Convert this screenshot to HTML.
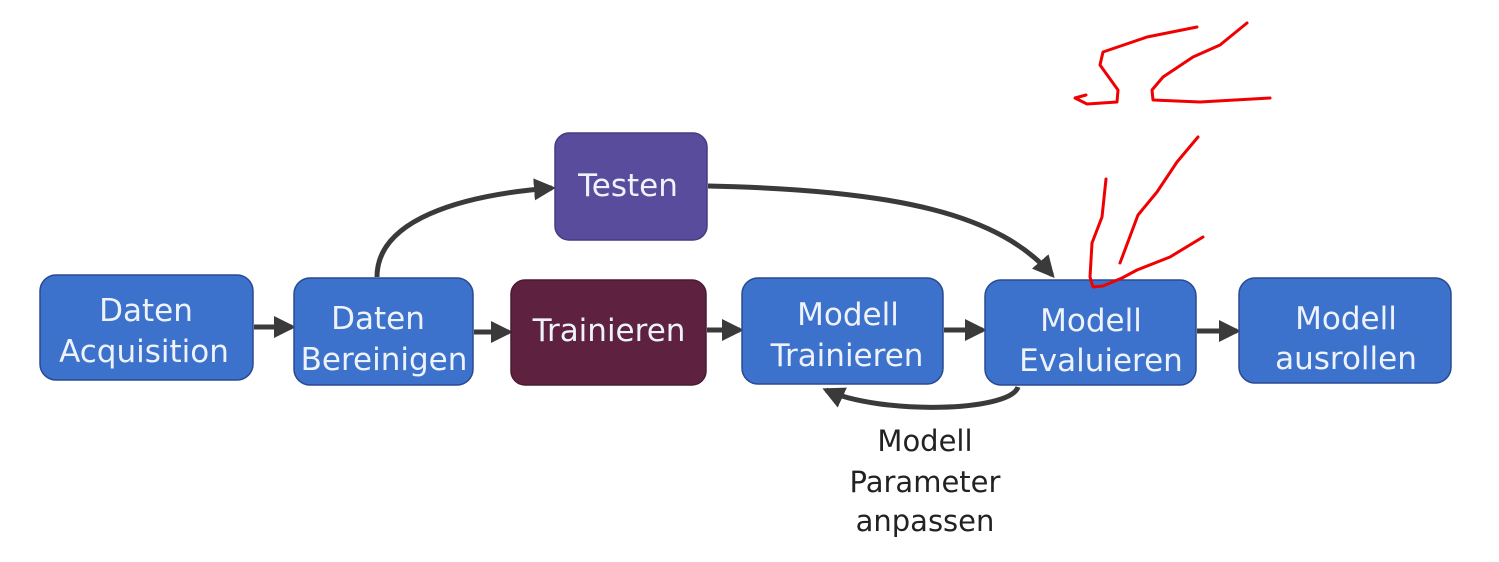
<!DOCTYPE html>
<html><head><meta charset="utf-8"><style>
html,body{margin:0;padding:0;background:#fff;}
svg{display:block;}
text{font-family:"DejaVu Sans","Liberation Sans",sans-serif;}
</style></head><body>
<svg width="1499" height="562" viewBox="0 0 1499 562" xmlns="http://www.w3.org/2000/svg">
<defs>
<marker id="ah" markerWidth="4.4" markerHeight="4.4" refX="3.6" refY="2.2" orient="auto" markerUnits="strokeWidth">
<path d="M0,0 L4.4,2.2 L0,4.4 Z" fill="#3a3a3a"/>
</marker>
</defs>
<g stroke="#3a3a3a" stroke-width="5" fill="none" stroke-linecap="butt">
<path d="M377,277 C377,220 460,195 552,188" marker-end="url(#ah)"/>
<path d="M708,186 C900,190 1000,215 1052,275" marker-end="url(#ah)"/>
<path d="M254,327 L292,327" marker-end="url(#ah)"/>
<path d="M474,332 L509,332" marker-end="url(#ah)"/>
<path d="M707,330 L740,330" marker-end="url(#ah)"/>
<path d="M944,330 L983,330" marker-end="url(#ah)"/>
<path d="M1197,331 L1237,331" marker-end="url(#ah)"/>
<path d="M1018,387 C1010,412 880,415 826,390" marker-end="url(#ah)"/>
</g>
<g stroke="#2a4a90" stroke-width="1.5">
<rect x="40" y="275" width="213" height="105" rx="16" fill="#3c72cc"/>
<rect x="294" y="278" width="179" height="107" rx="16" fill="#3c72cc"/>
<rect x="511" y="280" width="195" height="105" rx="14" fill="#5e2140" stroke="#4a1a33"/>
<rect x="742" y="278" width="201" height="106" rx="16" fill="#3c72cc"/>
<rect x="985" y="280" width="211" height="105" rx="16" fill="#3c72cc"/>
<rect x="1239" y="278" width="212" height="105" rx="16" fill="#3c72cc"/>
<rect x="555" y="133" width="152" height="107" rx="14" fill="#5a4c9c" stroke="#463c80"/>
</g>
<g fill="#eef2fa" font-size="31" text-anchor="middle">
<text x="146" y="321">Daten</text><text x="144" y="362">Acquisition</text>
<text x="378" y="329">Daten</text><text x="384" y="370">Bereinigen</text>
<text x="609" y="341">Trainieren</text>
<text x="848" y="325">Modell</text><text x="847" y="366">Trainieren</text>
<text x="1091" y="331">Modell</text><text x="1101" y="371">Evaluieren</text>
<text x="1346" y="329">Modell</text><text x="1346" y="369">ausrollen</text>
<text x="628" y="196">Testen</text>
</g>
<g fill="#222" font-size="29" text-anchor="middle">
<text x="925" y="451">Modell</text>
<text x="925" y="492">Parameter</text>
<text x="925" y="531">anpassen</text>
</g>
<g stroke="#f00000" stroke-width="3" fill="none" stroke-linecap="round" stroke-linejoin="round">
<path d="M1197,27 L1147,37 L1103,52 L1100,65 L1118,90 L1117,102 L1087,104 L1075,98 L1086,95"/>
<path d="M1247,23 L1220,45 L1193,57 L1163,77 L1152,90 L1153,100 L1200,102 L1270,98"/>
<path d="M1106,179 L1102,217 L1092,243 L1090,277 L1093,287 L1103,286 L1122,278 L1137,270 L1170,257 L1203,237"/>
<path d="M1198,137 L1177,162 L1157,192 L1138,215 L1120,263"/>
</g>
</svg>
</body></html>
